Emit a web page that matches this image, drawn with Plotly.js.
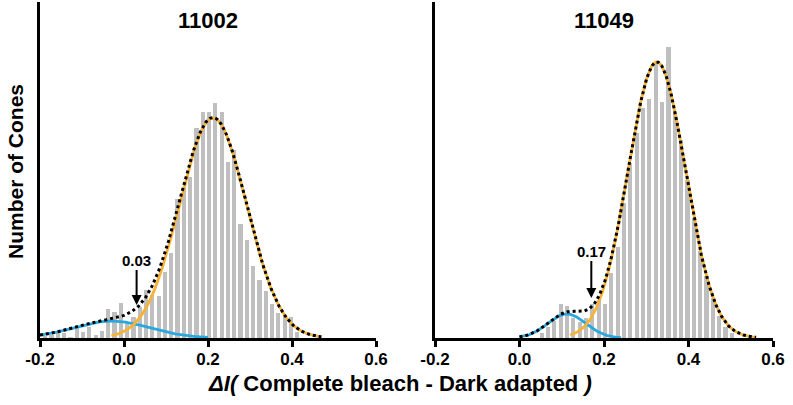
<!DOCTYPE html>
<html><head><meta charset="utf-8">
<script src="https://cdn.plot.ly/plotly-3.0.1.min.js"></script>
<style>html,body{margin:0;padding:0;background:#fff}#chart{width:793px;height:405px}</style>
</head><body><div id="chart"></div>
<script>
// ---- data ----
const panelTitles = ['11002', '11049'];
const tickVals = [-0.2, 0.0, 0.2, 0.4, 0.6];
const tickLabels = ['-0.2', '0.0', '0.2', '0.4', '0.6'];
const xTitle = '<i>ΔI(</i> Complete bleach - Dark adapted <i>)</i>';
const yTitle = 'Number of Cones';

// histogram bins (bin width 0.015), counts in arbitrary units
const leftBinCenters = [-0.1875,-0.1725,-0.1575,-0.1425,-0.1275,-0.1125,-0.0975,-0.0825,-0.0675,-0.0525,
  -0.0375,-0.0225,-0.0075,0.0075,0.0225,0.0375,0.0525,0.0675,0.0825,0.0975,
  0.1125,0.1275,0.1425,0.1575,0.1725,0.1875,0.2025,0.2175,0.2325,0.2475,
  0.2625,0.2775,0.2925,0.3075,0.3225,0.3375,0.3525,0.3675,0.3825,0.3975,0.4125];
const leftCounts = [2,3,6,5,1,10,6,11,3,7,
  29,26,35,16,21,31,48,43,42,66,
  85,139,150,161,210,226,226,235,226,176,
  188,114,98,72,58,47,34,25,23,21,6];
const rightBinCenters = [0.0525,0.0675,0.0825,0.0975,0.1125,0.1275,0.1425,0.1575,0.1725,0.1875,
  0.2025,0.2175,0.2325,0.2475,0.2625,0.2775,0.2925,0.3075,0.3225,0.3375,
  0.3525,0.3675,0.3825,0.3975,0.4125,0.4275,0.4425,0.4575,0.4725,0.4875,0.5025];
const rightCounts = [5,11,17,34,32,20,16,20,34,38,
  34,65,91,135,175,205,230,239,276,236,
  291,225,198,158,120,87,62,40,22,11,5];

// two-Gaussian fits: [mean, sd, amplitude]
const leftLowFit = [-0.03, 0.09, 17];
const leftHighFit = [0.212, 0.08, 220];
const rightLowFit = [0.112, 0.045, 24];
const rightHighFit = [0.325, 0.068, 276];

// arrow markers: [x, fit value at x, label]
const leftMarker = [0.03, 33, '0.03'];
const rightMarker = [0.17, 40, '0.17'];

// ---- drawing ----
const BAR = 'rgb(191,191,191)', BLUE = 'rgb(41,168,224)', ORANGE = 'rgb(247,178,56)';
function gauss(p, x) { return p[2] * Math.exp(-((x - p[0]) ** 2) / (2 * p[1] * p[1])); }
function curve(fits, x0, x1) {
  const xs = [], ys = [];
  for (let x = x0; x <= x1 + 1e-9; x += 0.002) {
    xs.push(x); ys.push(fits.reduce((s, p) => s + gauss(p, x), 0));
  }
  return {x: xs, y: ys};
}
function panel(centers, counts, low, high, ranges, xa, ya) {
  const b = curve([low], ranges[0][0], ranges[0][1]);
  const o = curve([high], ranges[1][0], ranges[1][1]);
  const s = curve([low, high], ranges[2][0], ranges[2][1]);
  return [
    {type: 'bar', x: centers, y: counts, width: 0.0098, marker: {color: BAR}, xaxis: xa, yaxis: ya, hoverinfo: 'skip'},
    {type: 'scatter', mode: 'lines', x: b.x, y: b.y, line: {color: BLUE, width: 2.8}, xaxis: xa, yaxis: ya},
    {type: 'scatter', mode: 'lines', x: o.x, y: o.y, line: {color: ORANGE, width: 2.8}, xaxis: xa, yaxis: ya},
    {type: 'scatter', mode: 'lines', x: s.x, y: s.y, line: {color: '#000', width: 3, dash: 'dot'}, xaxis: xa, yaxis: ya}
  ];
}
const traces = [].concat(
  panel(leftBinCenters, leftCounts, leftLowFit, leftHighFit, [[-0.2, 0.2], [-0.03, 0.47], [-0.2, 0.47]], 'x', 'y'),
  panel(rightBinCenters, rightCounts, rightLowFit, rightHighFit, [[0.0, 0.24], [0.12, 0.56], [0.0, 0.56]], 'x2', 'y2')
);

const W = 793;
const tickFont = {family: 'Liberation Sans, Arial, sans-serif', size: 17, color: '#000', weight: 'bold'};
function xAxis(d0, d1, anchor) {
  return {domain: [d0 / W, d1 / W], range: [-0.2, 0.6], anchor: anchor, showline: true, linecolor: '#000', linewidth: 3,
    ticks: 'outside', ticklen: 6, tickwidth: 3, tickcolor: '#000', tickvals: tickVals, ticktext: tickLabels,
    ticklabelstandoff: -2,
    tickfont: tickFont, showgrid: false, zeroline: false, fixedrange: true};
}
function yAxis(anchor) {
  return {domain: [0, 1], range: [0, 336], anchor: anchor, showline: true, linecolor: '#000', linewidth: 3,
    ticks: '', showticklabels: false, showgrid: false, zeroline: false, fixedrange: true};
}
const annFont = {family: 'Liberation Sans, Arial, sans-serif', color: '#000', weight: 'bold'};
function marker(m, xr, yr, ay) {
  return {x: m[0], y: m[1], xref: xr, yref: yr, text: m[2], showarrow: true, ax: 0, ay: ay,
    xanchor: 'center', yanchor: 'middle',
    arrowhead: 2, arrowsize: 1, arrowwidth: 2, arrowcolor: '#000', font: Object.assign({size: 15}, annFont)};
}
function label(text, xr, x, y, size, angle) {
  return {text: text, xref: xr, yref: 'paper', x: x, y: y, xanchor: 'center', yanchor: 'middle',
    textangle: angle || 0, showarrow: false, font: Object.assign({size: size}, annFont)};
}
const layout = {
  width: 793, height: 405, margin: {l: 0, r: 0, t: 2, b: 67},
  paper_bgcolor: '#fff', plot_bgcolor: '#fff', showlegend: false, bargap: 0,
  xaxis: xAxis(40, 376, 'y'), yaxis: yAxis('x'),
  xaxis2: xAxis(435, 773, 'y2'), yaxis2: yAxis('x2'),
  annotations: [
    label(panelTitles[0], 'x', 0.2, (338 - 20) / 336, 22),
    label(panelTitles[1], 'x2', 0.2, (338 - 20) / 336, 22),
    label(yTitle, 'paper', 15 / W, (338 - 172) / 336, 21, -90),
    label(xTitle, 'paper', 400 / W, (338 - 383) / 336, 22),
    marker(leftMarker, 'x', 'y', -45),
    marker(rightMarker, 'x2', 'y2', -47)
  ]
};
Plotly.newPlot('chart', traces, layout, {staticPlot: true, displayModeBar: false});
</script></body></html>
